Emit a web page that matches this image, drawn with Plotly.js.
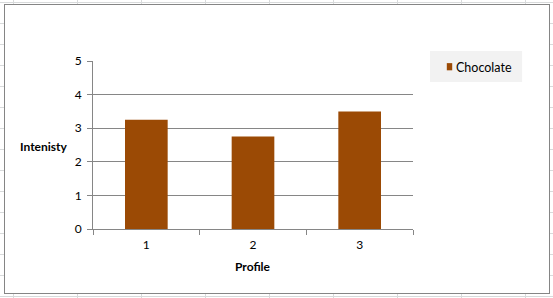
<!DOCTYPE html>
<html>
<head>
<meta charset="utf-8">
<script src="https://cdn.plot.ly/plotly-3.0.1.min.js"></script>
<style>
html,body{margin:0;padding:0;}
body{width:553px;height:298px;overflow:hidden;position:relative;background-color:#fff;
background-image:linear-gradient(to right,#d8dadb 1px,transparent 1px),linear-gradient(to bottom,#d8dadb 1px,transparent 1px);
background-size:64px 21px;background-position:13px 2px;}
#frame{position:absolute;left:4px;top:4px;width:546px;height:290px;box-sizing:border-box;border:1px solid #858585;background:#fff;}
#chart{width:544px;height:288px;}
</style>
</head>
<body>
<div id="frame"><div id="chart"></div></div>
<script>
const categories = ["1", "2", "3"];
const chocolate = [3.25, 2.75, 3.5];
const seriesName = "Chocolate";
const yTicks = [0, 1, 2, 3, 4, 5];

const font = "Lato, 'Open Sans', 'Liberation Sans', sans-serif";
const data = [{
  type: "bar",
  x: categories,
  y: chocolate,
  name: seriesName,
  width: 0.4,
  marker: {color: "#9b4a05", line: {width: 0}},
  showlegend: true,
  hoverinfo: "none"
}];

const layout = {
  width: 544, height: 288,
  margin: {l: 88, r: 136, t: 56, b: 64},
  paper_bgcolor: "#fff", plot_bgcolor: "#fff",
  font: {family: font, size: 12, color: "#000"},
  xaxis: {
    type: "category",
    showgrid: false, zeroline: false,
    showline: true, linecolor: "#868686", linewidth: 1,
    ticks: "outside", tickson: "boundaries", ticklen: 5, tickcolor: "#868686",
    ticklabelstandoff: 5,
    tickfont: {family: font, size: 12, color: "#000"},
    fixedrange: true
  },
  yaxis: {
    range: [0, 5],
    tickvals: yTicks,
    showgrid: true, gridcolor: "#868686", gridwidth: 1,
    zeroline: false,
    showline: true, linecolor: "#868686", linewidth: 1,
    ticks: "outside", ticklen: 5, tickcolor: "#868686",
    ticklabelstandoff: 3,
    tickfont: {family: font, size: 12, color: "#000"},
    fixedrange: true
  },
  legend: {
    x: 1.0094, y: 1.053, xanchor: "left", yanchor: "top",
    bgcolor: "rgba(0,0,0,0)", borderwidth: 0,
    font: {family: font, size: 12.5, color: "#000"},
    itemwidth: 30
  },
  shapes: [
    {type: "rect", xref: "paper", yref: "paper", x0: 1.053, x1: 1.341, y0: 0.875, y1: 1.06,
     fillcolor: "#f2f2f2", line: {width: 0}, layer: "below"}
  ],
  annotations: [
    {text: "<b>Intenisty</b>", xref: "paper", yref: "paper", x: -0.153, y: 0.494,
     xanchor: "center", yanchor: "middle", showarrow: false,
     font: {family: font, size: 12, color: "#000"}},
    {text: "<b>Profile</b>", xref: "paper", yref: "paper", x: 0.5, y: -0.226,
     xanchor: "center", yanchor: "middle", showarrow: false,
     font: {family: font, size: 12, color: "#000"}}
  ]
};

Plotly.newPlot("chart", data, layout, {displayModeBar: false, staticPlot: true}).then(function (gd) {
  gd.querySelectorAll(".legend .legendpoints path").forEach(function (p) {
    p.setAttribute("transform", "translate(33.5,0) scale(0.45,0.6)");
  });
});
</script>
</body>
</html>
